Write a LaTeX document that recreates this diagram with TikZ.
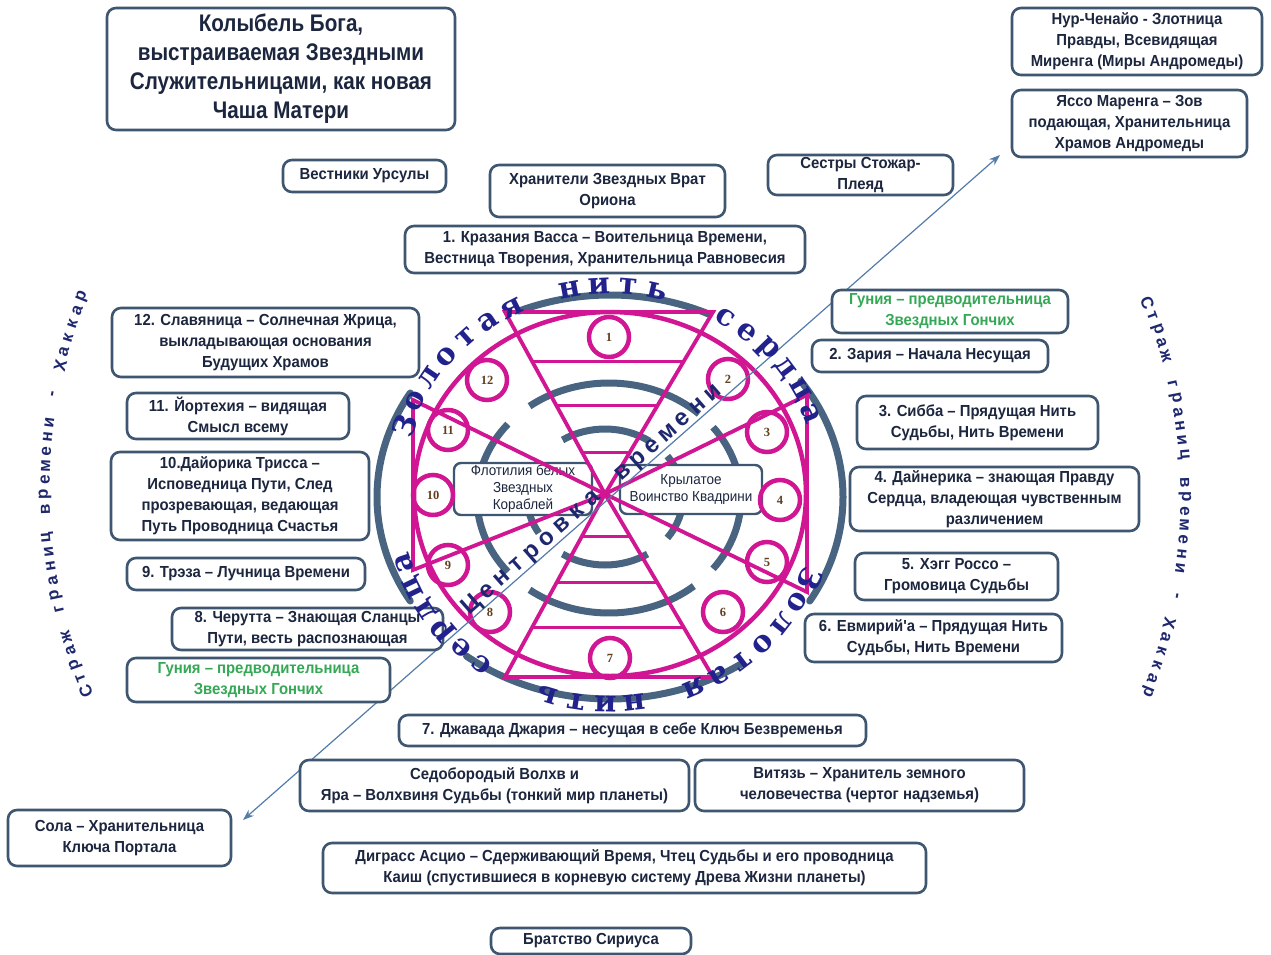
\documentclass[tikz,border=0pt]{standalone}
\usepackage{fontspec}
\setmainfont{Liberation Sans}
\newfontfamily\boxfont{Liberation Sans}[FakeStretch=0.93]
\newfontfamily\titlefont{Liberation Sans}[FakeStretch=0.86]
\newfontfamily\serifarc{DejaVu Serif}
\newfontfamily\numfont{Liberation Serif}
\usetikzlibrary{arrows.meta,calc}
\definecolor{boxc}{RGB}{62,86,112}
\definecolor{txtc}{RGB}{28,38,62}
\definecolor{greent}{RGB}{52,168,84}
\definecolor{mag}{RGB}{208,22,146}
\definecolor{arcb}{RGB}{72,100,128}
\definecolor{arrc}{RGB}{84,124,170}
\definecolor{navy}{RGB}{34,34,140}
\definecolor{navyb}{RGB}{30,40,110}
\definecolor{numc}{RGB}{96,62,30}
\newcommand\bbox[6]{\node[box, minimum width=#4pt, minimum height=#5pt] (#1) at (#2,-#3) {#6};}
\newcommand\earc[7]{\draw[#7] (#1,-#2) ++(#5:#3pt and #4pt) arc[start angle=#5, end angle=#6, x radius=#3pt, y radius=#4pt];}
\begin{document}
\begin{tikzpicture}[x=1pt,y=1pt,
  box/.style={draw=boxc, line width=2.6pt, rounded corners=9pt, fill=white, align=center, text=txtc, inner sep=0pt, font={\boxfont\bfseries\fontsize{16}{21}\selectfont}},
  ibox/.style={draw=boxc, line width=2.4pt, rounded corners=7pt, fill=white, align=center, text=txtc, inner sep=0pt, font={\boxfont\fontsize{14.5}{17}\selectfont}},
  bigarc/.style={draw=arcb, line width=7pt, line cap=round},
  ringarc/.style={draw=arcb, line width=7pt},
  magl/.style={draw=mag, line width=3.8pt, line join=miter},
  maghatch/.style={draw=mag, line width=3pt},
  numlab/.style={font={\numfont\bfseries\fontsize{12.5}{12.5}\selectfont}, text=numc, inner sep=0pt},
  arcletter/.style={font={\serifarc\bfseries\fontsize{30}{30}\selectfont}, text=navy, inner sep=0pt, anchor=center},
  strazh/.style={font={\bfseries\fontsize{17}{17}\selectfont}, text=navyb, inner sep=0pt, anchor=center},
  centr/.style={font={\bfseries\fontsize{24}{24}\selectfont}, text=navyb, inner sep=0pt},
  arrowline/.style={draw=arrc, line width=1.2pt, {Stealth[length=11pt,width=8pt]}-{Stealth[length=11pt,width=8pt]}}
]
\useasboundingbox (0,0) rectangle (1271,-955);
\fill[white] (0,0) rectangle (1271,-955);

% big outer arcs
\earc{610}{497}{233}{202}{65}{113}{bigarc}
\earc{610}{497}{233}{202}{-31}{35}{bigarc}
\earc{610}{497}{233}{202}{149}{211}{bigarc}
\earc{610}{497}{233}{202}{232}{304}{bigarc}
% ring arcs (outer)
\earc{609}{498}{132}{115}{47}{127}{ringarc}
\earc{609}{498}{132}{115}{140}{220}{ringarc}
\earc{609}{498}{132}{115}{233}{310}{ringarc}
\earc{609}{498}{132}{115}{-38}{38}{ringarc}
% ring arcs (inner)
\earc{605}{497}{78}{68}{55}{123}{ringarc}
\earc{605}{497}{78}{68}{148}{212}{ringarc}
\earc{605}{497}{78}{68}{237}{303}{ringarc}
\earc{605}{497}{78}{68}{-37}{37}{ringarc}

% inner boxes
\node[ibox, minimum width=138pt, minimum height=52pt] (flot) at (523,-489) {Флотилия белых\\Звездных\\Кораблей};
\node[ibox, minimum width=142pt, minimum height=49pt] (kryl) at (691,-489.5) {Крылатое\\Воинство Квадрини};

% magenta figure
\coordinate (X) at (605,-494);
\coordinate (htl) at (505,-312);
\coordinate (htr) at (713,-312);
\coordinate (hbl) at (505,-677);
\coordinate (hbr) at (713,-677);
\coordinate (bl1) at (413,-400);
\coordinate (bl2) at (413,-570);
\coordinate (br1) at (807,-395);
\coordinate (br2) at (807,-592);
\draw[mag, line width=4.5pt] (610,-494) ellipse [x radius=196, y radius=182];
\draw[magl] (htl) -- (htr) -- (X) -- cycle;
\draw[magl] (hbl) -- (hbr) -- (X) -- cycle;
\draw[magl] (bl1) -- (bl2) -- (X) -- cycle;
\draw[magl] (br1) -- (br2) -- (X) -- cycle;
\foreach \t in {0.27,0.515,0.77} {
  \draw[maghatch] ($(htl)!\t!(X)$) -- ($(htr)!\t!(X)$);
  \draw[maghatch] ($(hbl)!\t!(X)$) -- ($(hbr)!\t!(X)$);
}
\foreach \n/\x/\y in {1/609/337, 2/728/379, 3/767/432, 4/780/500, 5/767/562, 6/723/612, 7/610/658, 8/490/612, 9/448/565, 10/433/495, 11/448/430, 12/487/380} {
  \draw[mag, line width=4.5pt] (\x,-\y) circle[radius=20];
  \node[numlab] (n\n) at (\x,-\y) {\n};
}

% diagonal arrow
\coordinate (arrS) at (243,-820);
\coordinate (arrN) at (1000,-155);
\draw[arrowline] (arrS) -- (arrN);

% boxes
\node[box, minimum width=348pt, minimum height=122pt, font={\titlefont\bfseries\fontsize{24}{29}\selectfont}] (title) at (281,-69) {Колыбель Бога,\\выстраиваемая Звездными\\Служительницами, как новая\\Чаша Матери};
\bbox{nur}{1137}{41.5}{250}{67}{Нур-Ченайо - Злотница\\Правды, Всевидящая\\Миренга (Миры Андромеды)}
\bbox{yasso}{1129.5}{123.5}{235}{67}{Яссо Маренга – Зов\\подающая, Хранительница\\Храмов Андромеды}
\bbox{ursa}{364.5}{176}{163}{32}{Вестники Урсулы}
\bbox{orion}{607.5}{191}{235}{52}{Хранители Звездных Врат\\Ориона}
\bbox{stozh}{860.5}{175}{185}{40}{Сестры Стожар-\\Плеяд}
\bbox{b1}{605}{249.5}{400}{47}{1. Кразания Васса – Воительница Времени,\\Вестница Творения, Хранительница Равновесия}
\node[box, text=greent, minimum width=236pt, minimum height=43pt] (gunR) at (950,-311.5) {Гуния – предводительница\\Звездных Гончих};
\bbox{b2}{930}{356}{236}{32}{2. Зария – Начала Несущая}
\bbox{b3}{977.5}{422.5}{241}{53}{3. Сибба – Прядущая Нить\\Судьбы, Нить Времени}
\bbox{b4}{994.5}{499}{289}{64}{4. Дайнерика – знающая Правду\\Сердца, владеющая чувственным\\различением}
\bbox{b5}{956.5}{576.5}{203}{47}{5. Хэгг Россо –\\Громовица Судьбы}
\bbox{b6}{933.5}{638}{257}{48}{6. Евмирий'а – Прядущая Нить\\Судьбы, Нить Времени}
\bbox{b12}{265.5}{342.5}{307}{69}{12. Славяница – Солнечная Жрица,\\выкладывающая основания\\Будущих Храмов}
\bbox{b11}{238}{416}{222}{46}{11. Йортехия – видящая\\Смысл всему}
\bbox{b10}{240}{496}{258}{88}{10.Дайорика Трисса –\\Исповедница Пути, След\\прозревающая, ведающая\\Путь Проводница Счастья}
\bbox{b9}{246}{574}{238}{32}{9. Трэза – Лучница Времени}
\bbox{b8}{307.5}{629}{271}{42}{8. Черутта – Знающая Сланцы\\Пути, весть распознающая}
\node[box, text=greent, minimum width=263pt, minimum height=44pt] (gunL) at (258.5,-680) {Гуния – предводительница\\Звездных Гончих};
\bbox{b7}{632.5}{730.5}{467}{31}{7. Джавада Джария – несущая в себе Ключ Безвременья}
\bbox{sedo}{494.5}{785.5}{389}{51}{Седобородый Волхв и\\Яра – Волхвиня Судьбы (тонкий мир планеты)}
\bbox{vit}{859.5}{785.5}{329}{51}{Витязь – Хранитель земного\\человечества (чертог надземья)}
\bbox{sola}{119.5}{838}{223}{56}{Сола – Хранительница\\Ключа Портала}
\bbox{digr}{624.5}{868}{603}{50}{Диграсс Асцио – Сдерживающий Время, Чтец Судьбы и его проводница\\Каиш (спустившиеся в корневую систему Древа Жизни планеты)}
\bbox{sir}{591}{941}{200}{26}{Братство Сириуса}

% text around the ellipse
\begin{scope}[shift={(610,-495)}]
\foreach \a/\ch [count=\i] in {160.5/З,153.2/о,145.9/л,138.6/о,131.3/т,124/а,116.7/я,100.5/н,92.8/и,85.1/т,77.4/ь,58/с,51/е,44/р,37/д,30/ц,23/а} {
  \node[arcletter, rotate=\a-90] (gt\i) at (\a:218pt and 209pt) {\ch};
  \pgfmathsetmacro\b{\a-184}
  \node[arcletter, rotate=\b-90] (gb\i) at (\b:218pt and 209pt) {\ch};
}
\end{scope}

% Страж границ времени - Хаккар (left)
\begin{scope}[shift={(560,-490)}]
\foreach \ch [count=\i from 0] in {С,т,р,а,ж,{},г,р,а,н,и,ц,{},в,р,е,м,е,н,и,{},-,{},Х,а,к,к,а,р} {
  \pgfmathsetmacro\ang{203-\i*1.607}
  \node[strazh, rotate=\ang-90] (sl\i) at (\ang:515pt) {\ch};
}
\end{scope}
% right
\begin{scope}[shift={(666,-497)}]
\foreach \ch [count=\i from 0] in {С,т,р,а,ж,{},г,р,а,н,и,ц,{},в,р,е,м,е,н,и,{},-,{},Х,а,к,к,а,р} {
  \pgfmathsetmacro\ang{22-\i*1.571}
  \node[strazh, rotate=\ang-90] (sr\i) at (\ang:519pt) {\ch};
}
\end{scope}

% Центровка времени
\coordinate (cb) at (476,-609.5);
\foreach \ch [count=\i from 0] in {Ц,е,н,т,р,о,в,к,а,{},в,р,е,м,е,н,и} {
  \pgfmathsetmacro\dd{\i*20.06}
  \path (cb) ++(41.3:\dd pt) node[centr, rotate=41.3, anchor=base] (ct\i) {\ch};
}
\end{tikzpicture}
\end{document}
